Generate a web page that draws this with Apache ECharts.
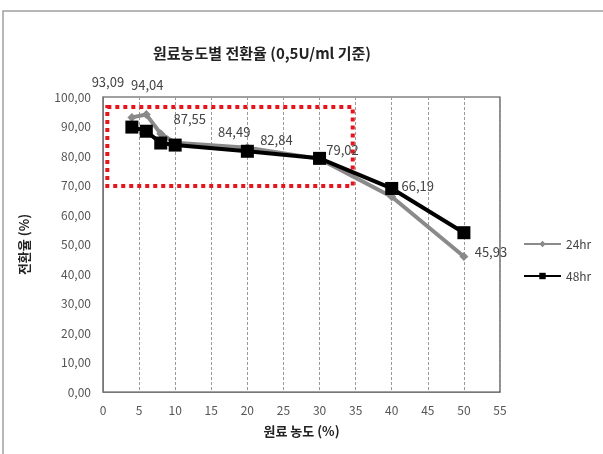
<!DOCTYPE html>
<html>
<head>
<meta charset="utf-8">
<script src="https://cdn.jsdelivr.net/npm/echarts@6/dist/echarts.min.js"></script>
<style>
  html, body { margin: 0; padding: 0; background: #fff; }
  #chart { width: 603px; height: 454px; }
</style>
</head>
<body>
<div id="chart"></div>
<script>
// Feed concentration (%) and conversion rate (%) after 24 h and 48 h
const concentrations = [4, 6, 8, 10, 20, 30, 40, 50];
const conv24h = [93.09, 94.04, 87.55, 84.49, 82.84, 79.02, 66.19, 45.93];
const conv48h = [89.8, 88.4, 84.4, 83.7, 81.6, 79.2, 69.0, 54.0];
const xTicks = [0, 5, 10, 15, 20, 25, 30, 35, 40, 45, 50, 55];
const yTicks = [0, 10, 20, 30, 40, 50, 60, 70, 80, 90, 100];
// Highlighted region: [x from, y top], [x to, y bottom]
const highlightBox = [[0.6, 96.6], [34.6, 69.8]];

// Label nudges (px) for the 24 h value labels
const labelNudge = [[-24, -35], [1, -30], [29, -15], [59, -11], [29, -8], [23, -9], [26, -11], [27, -4]];

const fmt = v => v.toFixed(2).replace('.', ',');
const font = '"Noto Sans CJK KR", "Noto Sans", sans-serif';

const chart = echarts.init(document.getElementById('chart'), null, { renderer: 'canvas' });

chart.setOption({
  animation: false,
  backgroundColor: '#fff',
  textStyle: { fontFamily: font },
  title: {
    text: '원료농도별 전환율 (0,5U/ml 기준)',
    left: 257, top: 41, textAlign: 'center',
    textStyle: { fontSize: 15, fontWeight: 'bold', color: '#222', fontFamily: font }
  },
  graphic: [{
    type: 'rect',
    shape: { x: 3, y: 11, width: 620, height: 460 },
    style: { fill: 'none', stroke: '#a0a0a0', lineWidth: 1.5 },
    silent: true
  }],
  legend: {
    orient: 'vertical',
    left: 518, top: 233,
    itemWidth: 37, itemHeight: 8, itemGap: 20,
    textStyle: { fontSize: 12, color: '#444', fontFamily: font },
    data: ['24hr', '48hr']
  },
  grid: {
    left: 103, right: 103, top: 97, bottom: 62,
    show: true, borderColor: '#444', borderWidth: 1.2, backgroundColor: 'transparent'
  },
  xAxis: {
    type: 'value', min: xTicks[0], max: xTicks[xTicks.length - 1], interval: 5,
    name: '원료 농도 (%)', nameLocation: 'middle', nameGap: 33,
    nameTextStyle: { fontSize: 13, fontWeight: 'bold', color: '#222', fontFamily: font },
    axisLine: { show: true, lineStyle: { color: '#777', width: 1 } },
    axisTick: { show: false },
    axisLabel: { fontSize: 12, color: '#555', margin: 12, fontFamily: font },
    splitLine: { show: true, lineStyle: { color: '#999', type: [3, 2], width: 1 } }
  },
  yAxis: {
    type: 'value', min: yTicks[0], max: yTicks[yTicks.length - 1], interval: 10,
    name: '전환율 (%)', nameLocation: 'middle', nameGap: 72, nameRotate: 90,
    nameTextStyle: { fontSize: 13, fontWeight: 'bold', color: '#222', fontFamily: font },
    axisLine: { show: true, lineStyle: { color: '#777', width: 1 } },
    axisTick: { show: false },
    axisLabel: { fontSize: 12, color: '#555', margin: 12, formatter: v => fmt(v), fontFamily: font },
    splitLine: { show: false }
  },
  series: [
    {
      name: '24hr', type: 'line',
      data: concentrations.map((x, i) => ({
        value: [x, conv24h[i]],
        label: { offset: labelNudge[i] }
      })),
      symbol: 'diamond', symbolSize: 9,
      lineStyle: { color: '#8a8a8a', width: 4 },
      itemStyle: { color: '#8a8a8a' },
      label: {
        show: true, position: 'inside',
        formatter: p => fmt(p.value[1]),
        fontSize: 13, color: '#444', fontFamily: font
      },
      markArea: {
        silent: true,
        itemStyle: { color: 'transparent', borderColor: '#e8141c', borderWidth: 4, borderType: [4, 4] },
        data: [[{ coord: highlightBox[0] }, { coord: highlightBox[1] }]]
      },
      z: 2
    },
    {
      name: '48hr', type: 'line',
      data: concentrations.map((x, i) => [x, conv48h[i]]),
      symbol: 'rect', symbolSize: 13,
      lineStyle: { color: '#000', width: 4 },
      itemStyle: { color: '#000' },
      z: 3
    }
  ]
});
</script>
</body>
</html>
